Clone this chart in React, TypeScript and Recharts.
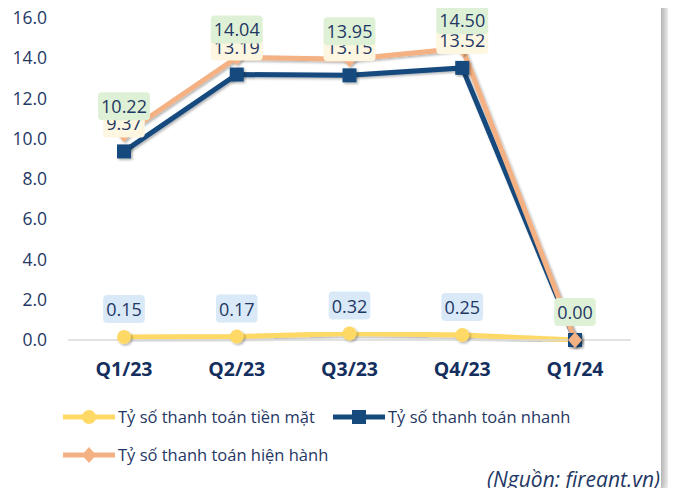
import { LineChart, Line, XAxis, YAxis, LabelList } from 'recharts';

const quarters = ['Q1/23', 'Q2/23', 'Q3/23', 'Q4/23', 'Q1/24'];
const cashRatio = [0.15, 0.17, 0.32, 0.25, 0.0];
const quickRatio = [9.37, 13.19, 13.15, 13.52, 0.0];
const currentRatio = [10.22, 14.04, 13.95, 14.5, 0.0];
const yTicks = [0, 2, 4, 6, 8, 10, 12, 14, 16];

const NAVY_TEXT = '#1f3864';
const FONT = '"Open Sans", sans-serif';

const series = [
  { key: 'cash', name: 'Tỷ số thanh toán tiền mặt', color: '#ffd966', box: '#d9e9f8', marker: 'circle' },
  { key: 'quick', name: 'Tỷ số thanh toán nhanh', color: '#164a7d', box: '#fdf6e1', marker: 'square' },
  { key: 'current', name: 'Tỷ số thanh toán hiện hành', color: '#f4b183', box: '#def1d6', marker: 'diamond' },
];

const data = quarters.map((q, i) => ({
  q,
  cash: cashRatio[i],
  quick: quickRatio[i],
  current: currentRatio[i],
}));

function Marker({ type, cx, cy, color }: { type: string; cx: number; cy: number; color: string }) {
  if (type === 'circle') return <circle cx={cx} cy={cy} r={7} fill={color} />;
  if (type === 'square') return <rect x={cx - 7} y={cy - 7} width={14} height={14} fill={color} />;
  return <polygon points={`${cx},${cy - 8} ${cx + 7},${cy} ${cx},${cy + 8} ${cx - 7},${cy}`} fill={color} />;
}

const dotFor = (type: string, color: string) => (p: any) => (
  <g key={`${type}-${p.index}`} filter="url(#shadow)">
    <Marker type={type} cx={p.cx} cy={p.cy} color={color} />
  </g>
);

const boxLabel = (fill: string, hideZero: boolean) => (p: any) => {
  const v = Number(p.value);
  if (hideZero && v === 0) return null;
  const txt = v.toFixed(2);
  const w = (txt.length - 1) * 10.3 + 4.7 + 6;
  const h = 28;
  const bottom = p.y - 14;
  return (
    <g key={`lbl-${fill}-${p.index}`}>
      <rect x={p.x - w / 2} y={bottom - h} width={w} height={h} rx={4} fill={fill} />
      <text x={p.x} y={bottom - h / 2} textAnchor="middle" dominantBaseline="central" fontSize={18} fontFamily={FONT} fill={NAVY_TEXT}>
        {txt}
      </text>
    </g>
  );
};

function LegendItem({ s }: { s: (typeof series)[number] }) {
  return (
    <div style={{ display: 'flex', alignItems: 'center', gap: 3 }}>
      <svg width={52} height={18}>
        <line x1={0} y1={9} x2={52} y2={9} stroke={s.color} strokeWidth={5} strokeLinecap="round" />
        <Marker type={s.marker} cx={26} cy={9} color={s.color} />
      </svg>
      <span style={{ fontSize: 16.5, color: NAVY_TEXT, whiteSpace: 'nowrap' }}>{s.name}</span>
    </div>
  );
}

export default function App() {
  const byKey = (k: string) => series.find((s) => s.key === k)!;
  const drawOrder = ['cash', 'quick', 'current'];
  return (
    <div style={{ position: 'relative', width: 676, height: 496, margin: -8, background: '#fff', fontFamily: FONT, overflow: 'hidden' }}>
      <div style={{ position: 'absolute', left: 0, top: -10, width: 661, height: 505, background: '#fff', borderRadius: '0 0 10px 0', boxShadow: '4px 0 8px rgba(0,0,0,0.35)' }} />
      <div style={{ position: 'absolute', left: 0, top: 0 }}>
        <LineChart width={661} height={400} data={data} margin={{ top: 18, right: 30, left: 0, bottom: 20 }}>
          <defs>
            <filter id="shadow" x="-20%" y="-20%" width="140%" height="140%">
              <feDropShadow dx={1.5} dy={1.5} stdDeviation={1.2} floodColor="#000" floodOpacity={0.3} />
            </filter>
          </defs>
          <XAxis
            dataKey="q"
            padding={{ left: 56, right: 56 }}
            axisLine={{ stroke: '#d9d9d9', strokeWidth: 1.5 }}
            tickLine={false}
            tickSize={0}
            tickMargin={22}
            height={40}
            tick={{ fontSize: 19.5, fontWeight: 700, fill: '#142f5e', fontFamily: FONT }}
          />
          <YAxis
            width={68}
            domain={[0, 16]}
            ticks={yTicks}
            tickFormatter={(v: number) => v.toFixed(1)}
            axisLine={false}
            tickLine={false}
            tickSize={0}
            tickMargin={21}
            tick={{ fontSize: 17.5, fill: NAVY_TEXT, fontFamily: FONT }}
          />
          {drawOrder.map((k) => {
            const s = byKey(k);
            return (
              <Line
                key={k}
                dataKey={k}
                name={s.name}
                stroke={s.color}
                strokeWidth={5}
                filter="url(#shadow)"
                dot={dotFor(s.marker, s.color)}
                activeDot={false}
                isAnimationActive={false}
              />
            );
          })}
          {['quick', 'current', 'cash'].map((k) => {
            const s = byKey(k);
            return (
              <Line
                key={`label-${k}`}
                dataKey={k}
                stroke="none"
                dot={false}
                activeDot={false}
                legendType="none"
                isAnimationActive={false}
              >
                <LabelList dataKey={k} content={boxLabel(s.box, k !== 'current')} />
              </Line>
            );
          })}
        </LineChart>
      </div>
      <div style={{ position: 'absolute', left: 63, top: 405 }}>
        <LegendItem s={series[0]} />
      </div>
      <div style={{ position: 'absolute', left: 333, top: 405 }}>
        <LegendItem s={series[1]} />
      </div>
      <div style={{ position: 'absolute', left: 63, top: 443 }}>
        <LegendItem s={series[2]} />
      </div>
      <div style={{ position: 'absolute', right: 16, top: 465, fontSize: 21, fontStyle: 'italic', color: NAVY_TEXT }}>
        (Nguồn: fireant.vn)
      </div>
    </div>
  );
}
